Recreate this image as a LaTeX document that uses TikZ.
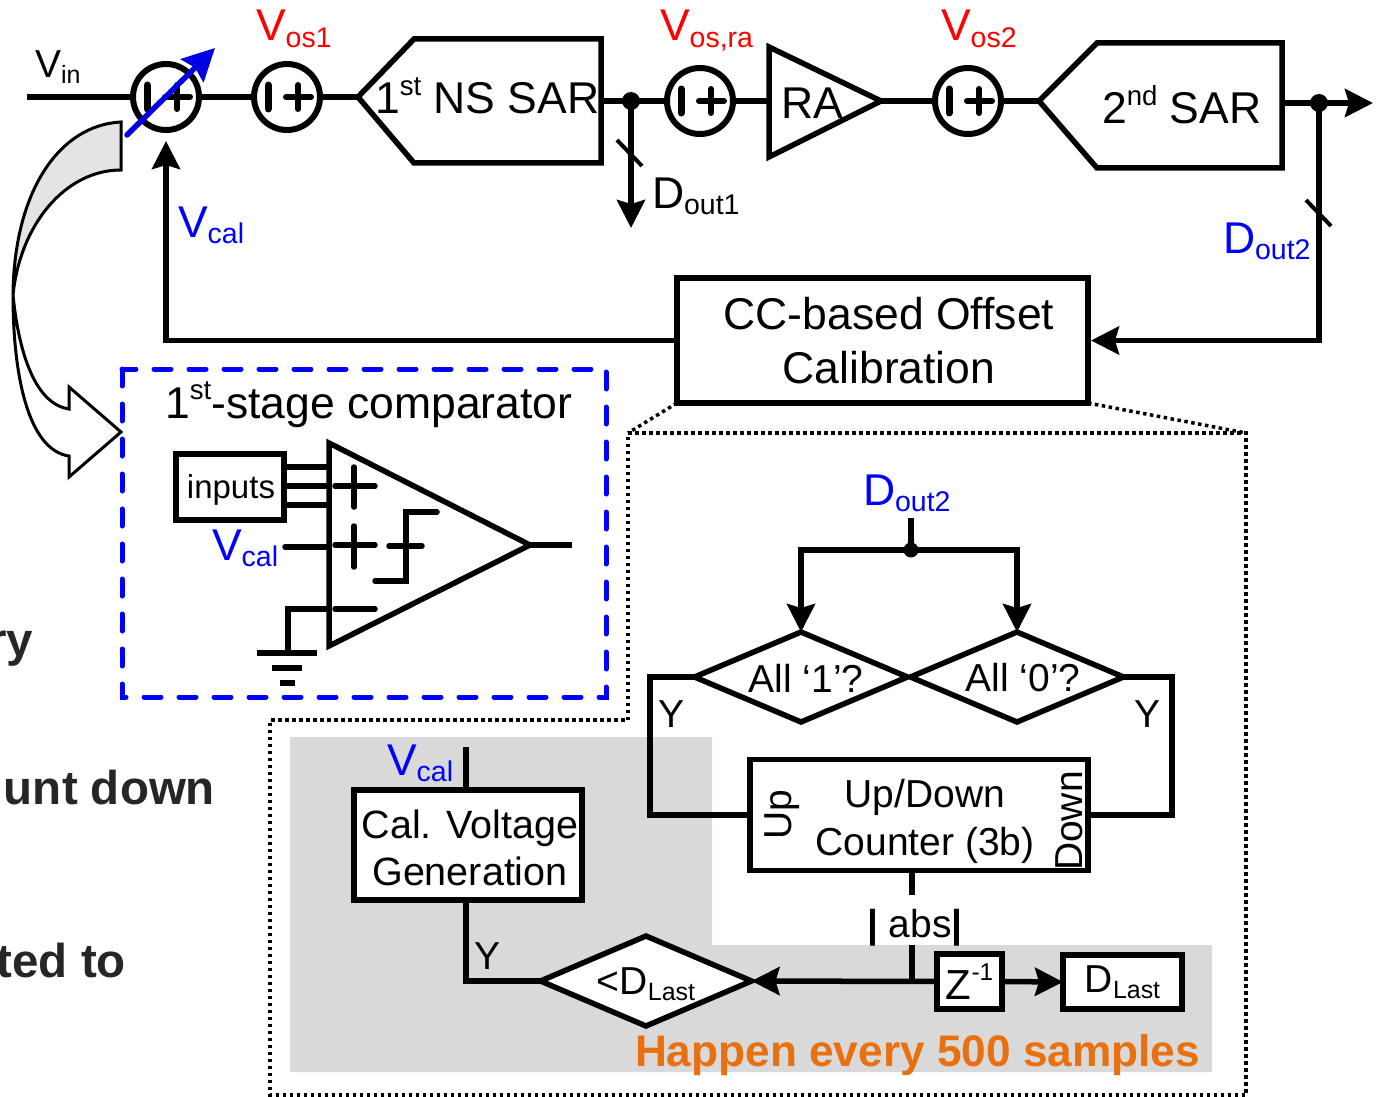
\documentclass[tikz,border=0pt]{standalone}
\usepackage{fontspec}
\usepackage{graphicx}
\setmainfont{Liberation Sans}
\usetikzlibrary{arrows.meta,calc,shapes.geometric}
\definecolor{greyarea}{HTML}{D9D9D9}
\definecolor{happen}{HTML}{E8700F}
\newcommand{\lsub}[2]{#1\raisebox{-0.14em}{\scalebox{0.64}{#2}}}
\newcommand{\lsup}[2]{#1\raisebox{0.42em}{\scalebox{0.62}{#2}}}
\tikzset{>={Stealth[length=28pt,width=28pt,inset=4pt]},
every node/.style={inner sep=0pt,outer sep=0pt},
big/.style={font=\fontsize{44.5}{52}\selectfont},
small/.style={font=\fontsize{39}{46}\selectfont},
wire/.style={line width=5.5pt,line join=miter},
block/.style={rectangle,draw,line width=5.5pt,fill=white},
adder/.style={circle,draw,line width=6pt,minimum size=66pt,fill=white},
test/.style={diamond,draw,line width=5.5pt,fill=white,aspect=2.37},
dot/.style={circle,fill=black,minimum size=18pt},
frame line/.style={line width=3.5pt,dash pattern=on 3.5pt off 3.5pt},
addmark/.pic={
\draw[line width=7pt,line cap=round] (-19,-12) -- (-19,12);
\draw[line width=6pt,line cap=round] (-1,0) -- (24,0) (11,-12) -- (11,12);
},
}
\begin{document}
\begin{tikzpicture}[x=1pt,y=-1pt]
\useasboundingbox (0,0) rectangle (1385,1097);
% grey area
\fill[greyarea] (290,737) -- (712,737) -- (712,945) -- (1212,945) -- (1212,1072) -- (290,1072) -- cycle;
% top chain
\coordinate (vinstart) at (27,97);
\coordinate (sarain) at (358,97);
\coordinate (saraout) at (601,101);
\coordinate (sarbin) at (1039,101);
\coordinate (sarbout) at (1282,103);
\coordinate (rain) at (769,101);
\coordinate (raout) at (881,101);
\coordinate (outend) at (1373,103);
\coordinate (doutaend) at (631,228);
\node[adder] (sumin) at (166,97) {};
\node[adder] (sumosa) at (287,97) {};
\node[adder] (sumra) at (700,101) {};
\node[adder] (sumosb) at (968,101) {};
\node[dot] (doutadot) at (631,101) {};
\node[dot] (doutbdot) at (1319,103) {};
\node[block,minimum width=411pt,minimum height=125pt] (ccbox) at (882.5,340.5) {};
\node[big,align=center] (cclabel) at (889,341) {CC-based Offset\\[2pt]Calibration};
\path[wire]
(vinstart) edge (sumin.west)
(sumin.east) edge (sumosa.west)
(sumosa.east) edge (sarain)
(saraout) edge (sumra.west)
(sumra.east) edge (rain)
(raout) edge (sumosb.west)
(sumosb.east) edge (sarbin)
;
\draw[wire,->] (doutadot.center) -- (doutaend);
\draw[wire] (sarbout) -- (doutbdot.center);
\draw[wire,->] (doutbdot.center) -- (outend);
\draw[wire,->,shorten >=3pt] (doutbdot.center) |- (ccbox.east);
\draw[wire,->,shorten >=11pt] (ccbox.west) -| (sumin.south);
\pic at (sumin) {addmark};
\pic at (sumosa) {addmark};
\pic at (sumra) {addmark};
\pic at (sumosb) {addmark};
\draw[line width=5.5pt,blue!90!black,line cap=round,-{Stealth[length=32pt,width=32pt,inset=4pt]}] (127,135) -- (215,48);
% amplifier shapes
\draw[wire,fill=white] (sarain) -- (414,39) -- (601,39) -- (601,163) -- (414,163) -- cycle;
\draw[wire,fill=white] (769,47) -- (769,157) -- (raout) -- cycle;
\draw[wire,fill=white] (sarbin) -- (1097,43) -- (1282,43) -- (1282,168) -- (1097,168) -- cycle;
\node[big,anchor=base west] (sarlabel) at (375,114) {\lsup{1}{st} NS SAR};
\node[big,anchor=center] (ralabel) at (812,103) {RA};
\node[big,anchor=base west] (sarblabel) at (1102,124) {\lsup{2}{nd} SAR};
\draw[line width=4pt] (617,140) -- (642,166);
\draw[line width=4pt] (1306,200) -- (1331,226);
% labels of the chain
\node[small,anchor=base west] (vinlabel) at (35,78) {\lsub{V}{in}};
\node[big,red,anchor=base west] (vosalabel) at (256,41) {\lsub{V}{os1}};
\node[big,red,anchor=base west] (vosralabel) at (660,41) {\lsub{V}{os,ra}};
\node[big,red,anchor=base west] (vosblabel) at (941,41) {\lsub{V}{os2}};
\node[big,blue,anchor=base west] (vcallabel) at (178,237) {\lsub{V}{cal}};
\node[big,anchor=base west] (doutalabel) at (652,208) {\lsub{D}{out1}};
\node[big,blue,anchor=base west] (doutblabel) at (1223,253) {\lsub{D}{out2}};
% curved arrow
\draw[line width=3pt,fill=greyarea!70!white] (121,122) .. controls (60,125) and (14,190) .. (13,295) .. controls (20,225) and (65,170) .. (121,170) -- cycle;
\draw[line width=3pt,fill=white] (13,295) .. controls (13,375) and (28,450) .. (69,456) -- (69,477) -- (121,432) -- (69,387) -- (69,409) .. controls (40,405) and (20,365) .. (13,295) -- cycle;
% comparator
\draw[line width=5pt,blue,dash pattern=on 17pt off 18pt,line cap=round] (122,369) rectangle (606,697);
\node[big,anchor=base west] (cmptitle) at (165,418) {\lsup{1}{st}-stage comparator};
\node[block,minimum width=108pt,minimum height=66pt] (inputs) at (230,487) {};
\node[font=\fontsize{33}{40}\selectfont] (inputstxt) at (231,490) {inputs};
\coordinate (cmpin) at (329,443);
\coordinate (cmplow) at (329,646);
\coordinate (cmpout) at (530,545);
\coordinate (cmpend) at (572,545);
\coordinate (vcalin) at (285,547);
\coordinate (gndin) at (329,609);
\coordinate (gnd) at (288,653);
\draw[wire] (285,467) -- (329,467) (285,486) -- (329,486) (285,505) -- (329,505);
\draw[wire,line cap=round] (vcalin) -- (329,547);
\draw[wire] (cmpout) -- (cmpend);
\draw[wire] (gndin) -| (gnd);
\draw[wire,line join=miter] (cmpin) -- (cmpout) -- (cmplow) -- cycle;
\draw[line width=6pt] (257,653) -- (317,653) (272,668) -- (302,668) (280,683) -- (295,683);
\draw[wire,line cap=round] (335,486) -- (375,486) (354,467) -- (354,507) (335,545) -- (375,545) (354,526) -- (354,567) (335,609) -- (375,609);
\draw[wire,line cap=round] (437,512) -- (406,512) -- (406,581) -- (375,581) (389,546) -- (422,546);
\node[big,blue,anchor=base west] (vcalcmp) at (212,560) {\lsub{V}{cal}};
% dotted frame
\draw[frame line] (628,433) -- (1246,433) -- (1246,1095) -- (270,1095) -- (270,720) -- (628,720) -- cycle;
\draw[frame line] (ccbox.south west) -- (628,433);
\draw[frame line] (ccbox.south east) -- (1246,433);
% flow
\node[big,blue,anchor=base west] (doutbflow) at (863,505) {\lsub{D}{out2}};
\node[test,minimum width=213pt,minimum height=90pt] (allone) at (801,677) {};
\node[test,minimum width=213pt,minimum height=90pt] (allzero) at (1017,677) {};
\node[small] (allonetxt) at (806,678) {All ‘1’?};
\node[small] (allzerotxt) at (1023,678) {All ‘0’?};
\node[dot,minimum size=15pt] (flowdot) at (911,550) {};
\coordinate (flowtop) at (911,518);
\draw[wire] (flowtop) -- (flowdot.center);
\draw[wire,->] (flowdot.center) -| (allone.north);
\draw[wire,->] (flowdot.center) -| (allzero.north);
\node[block,minimum width=338pt,minimum height=111pt] (counter) at (919,815) {};
\node[small,align=center] (countertxt) at (925,821) {Up/Down\\[2pt]Counter (3b)};
\node[small,rotate=90] (uplabel) at (782,815) {Up};
\node[small,rotate=90] (downlabel) at (1069,821) {Down};
\draw[wire] (allone.west) -- (650,677) |- (counter.west);
\draw[wire] (allzero.east) -- (1172,677) |- (counter.east);
\node[small] (yleft) at (671,714) {Y};
\node[small] (yright) at (1147,714) {Y};
\coordinate (absup) at (912,895);
\coordinate (absdown) at (912,945);
\coordinate (absjoin) at (912,981);
\node[small] (abslabel) at (915,928) {{\bfseries|} abs{\bfseries|}};
\draw[wire] (counter.south -| absup) -- (absup);
\draw[wire] (absdown) -- (absjoin);
\node[block,minimum width=65pt,minimum height=55pt,font=\fontsize{42}{46}\selectfont] (zbox) at (969.5,981.5) {Z\raisebox{0.45em}{\scalebox{0.58}{-1}}};
\node[block,minimum width=119pt,minimum height=54pt,small] (dlast) at (1122.5,982) {\lsub{D}{Last}};
\node[test,minimum width=211pt,minimum height=90pt] (cmplast) at (646,981) {};
\node[small] (cmplasttxt) at (646,984) {<\lsub{D}{Last}};
\draw[wire,->] (zbox.east) -- (dlast.west);
\draw[wire,->] (zbox.west) -- (cmplast.east);
\node[block,minimum width=228pt,minimum height=110pt] (calgen) at (468,845) {};
\node[font=\fontsize{39.5}{47}\selectfont,align=center] (calgentxt) at (470,848) {Cal. Voltage\\Generation};
\coordinate (calout) at (466,747);
\draw[wire] (calgen.north -| calout) -- (calout);
\draw[wire] (cmplast.west) -| (calgen.south -| calout);
\node[small] (ycal) at (488,956) {Y};
\node[big,blue,anchor=base west] (vcalgen) at (387,775) {\lsub{V}{cal}};
\node[font=\fontsize{44.2}{50}\selectfont\bfseries,happen,anchor=base west] (happenlabel) at (635,1066) {Happen every 500 samples};
% cut off text at the left side
\node[font=\fontsize{47.5}{54}\selectfont\bfseries,text=black!85,anchor=base east] (cutry) at (33,656) {ry};
\node[font=\fontsize{47.5}{54}\selectfont\bfseries,text=black!85,anchor=base east] (cutdown) at (215,804) {unt down};
\node[font=\fontsize{47.5}{54}\selectfont\bfseries,text=black!85,anchor=base east] (cutto) at (126,977) {ted to};
\end{tikzpicture}
\end{document}
